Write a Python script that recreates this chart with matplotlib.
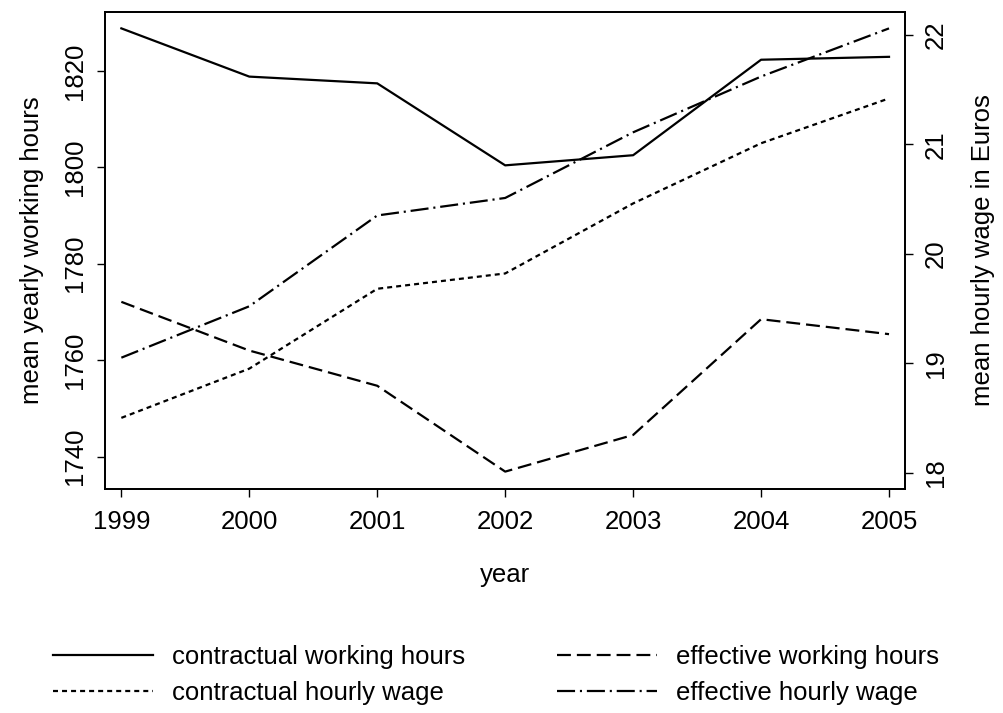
import matplotlib
matplotlib.use('Agg')
import matplotlib.pyplot as plt

plt.rcParams['font.family'] = ['Liberation Sans', 'DejaVu Sans']
plt.rcParams['lines.scale_dashes'] = False

YEARS = [1999, 2000, 2001, 2002, 2003, 2004, 2005]

# hours (left axis)
CONTRACT_HOURS = [1828.8, 1818.8, 1817.4, 1800.4, 1802.5, 1822.3, 1822.9]
EFFECTIVE_HOURS = [1772.1, 1762.0, 1754.7, 1736.9, 1744.5, 1768.5, 1765.4]

# wages (right axis)
CONTRACT_WAGE = [18.50, 18.95, 19.68, 19.82, 20.46, 21.01, 21.42]
EFFECTIVE_WAGE = [19.05, 19.52, 20.35, 20.51, 21.11, 21.62, 22.06]

LABELS = ['contractual working hours', 'effective working hours',
          'contractual hourly wage', 'effective hourly wage']

FS = 18.5
LW = 1.6

fig = plt.figure(figsize=(10.04, 7.13), dpi=100)
ax = fig.add_axes([0.1043, 0.3142, 0.9014 - 0.1043, 0.9832 - 0.3142])
ax2 = ax.twinx()

l1, = ax.plot(YEARS, CONTRACT_HOURS, color='black', lw=LW, ls='-')
l2, = ax.plot(YEARS, EFFECTIVE_HOURS, color='black', lw=LW, dashes=(10, 4.3))
l3, = ax2.plot(YEARS, CONTRACT_WAGE, color='black', lw=LW, dashes=(3.6, 2.9))
l4, = ax2.plot(YEARS, EFFECTIVE_WAGE, color='black', lw=LW, dashes=(13, 3.5, 1.5, 3.5))

ax.set_xlim(1998.87, 2005.125)
ax.set_ylim(1733.3, 1832.2)
ax2.set_ylim(17.85, 22.21)

ax.set_xticks(YEARS)
ax.set_yticks([1740, 1760, 1780, 1800, 1820])
ax2.set_yticks([18, 19, 20, 21, 22])

for a in (ax, ax2):
    for s in a.spines.values():
        s.set_linewidth(1.3)
    a.tick_params(direction='out', length=5.5, width=1.0, labelsize=FS)

ax.tick_params(axis='x', pad=9.5)
ax.tick_params(axis='y', pad=7.5)
ax2.tick_params(axis='y', pad=8)
for t in ax.get_yticklabels():
    t.set_rotation(90)
    t.set_va('center')
for t in ax2.get_yticklabels():
    t.set_rotation(90)
    t.set_va('center')

ax.set_xlabel('year', fontsize=FS, labelpad=21)
ax.set_ylabel('mean yearly working hours', fontsize=FS, labelpad=13.5)
ax2.set_ylabel('mean hourly wage in Euros', fontsize=FS, labelpad=17)

leg_kw = dict(loc='upper left', frameon=False, fontsize=FS, handlelength=3.9,
              handletextpad=0.74, labelspacing=0.46, borderpad=0, borderaxespad=0)
fig.legend([l1, l3], [LABELS[0], LABELS[2]],
           bbox_to_anchor=(53 / 1004, 1 - 645 / 713), **leg_kw)
fig.legend([l2, l4], [LABELS[1], LABELS[3]],
           bbox_to_anchor=(557 / 1004, 1 - 645 / 713), **leg_kw)

fig.savefig('out.png', dpi=100)
